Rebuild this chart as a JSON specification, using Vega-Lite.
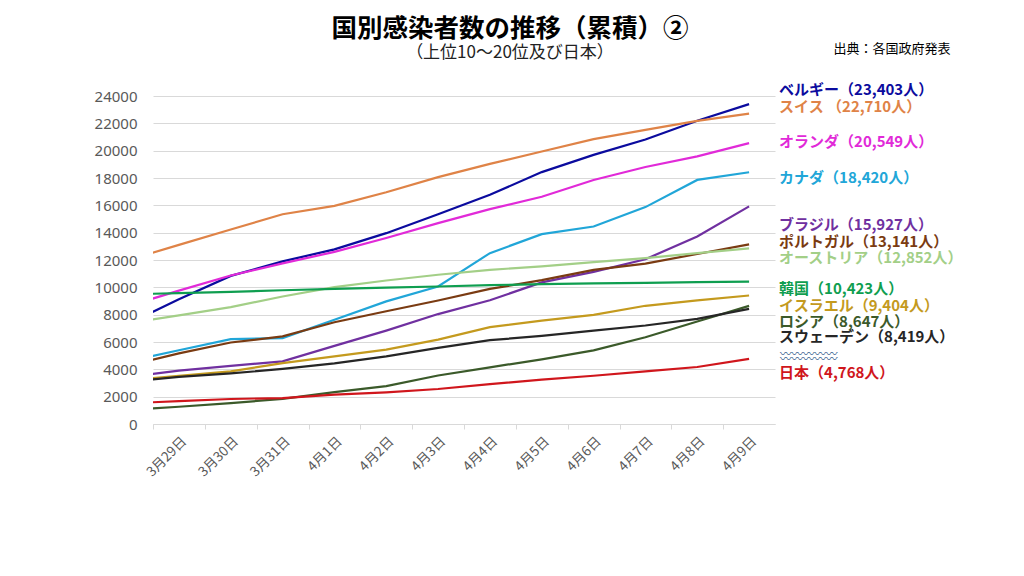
{
  "$schema": "https://vega.github.io/schema/vega-lite/v6.json",
  "width": 622,
  "height": 328,
  "autosize": {"type": "none"},
  "padding": {"left": 153, "top": 96, "right": 249, "bottom": 152},
  "background": "white",
  "title": {
    "text": "国別感染者数の推移（累積）②",
    "subtitle": "（上位10～20位及び日本）",
    "anchor": "middle", "frame": "group", "dx": 46, "offset": -19,
    "font": "Noto Sans CJK JP", "fontSize": 25.5, "fontWeight": "bold", "color": "#000000",
    "subtitleFont": "Noto Sans CJK JP", "subtitleFontSize": 17, "subtitleColor": "#222222", "subtitlePadding": 3
  },
  "datasets": {
    "cases": [
      {"date": "2020-03-28", "country": "ベルギー", "cases": 7300},
      {"date": "2020-03-29", "country": "ベルギー", "cases": 9134},
      {"date": "2020-03-30", "country": "ベルギー", "cases": 10836},
      {"date": "2020-03-31", "country": "ベルギー", "cases": 11899},
      {"date": "2020-04-01", "country": "ベルギー", "cases": 12775},
      {"date": "2020-04-02", "country": "ベルギー", "cases": 13964},
      {"date": "2020-04-03", "country": "ベルギー", "cases": 15348},
      {"date": "2020-04-04", "country": "ベルギー", "cases": 16770},
      {"date": "2020-04-05", "country": "ベルギー", "cases": 18431},
      {"date": "2020-04-06", "country": "ベルギー", "cases": 19691},
      {"date": "2020-04-07", "country": "ベルギー", "cases": 20814},
      {"date": "2020-04-08", "country": "ベルギー", "cases": 22194},
      {"date": "2020-04-09", "country": "ベルギー", "cases": 23403},
      {"date": "2020-03-28", "country": "スイス", "cases": 11980},
      {"date": "2020-03-29", "country": "スイス", "cases": 13110},
      {"date": "2020-03-30", "country": "スイス", "cases": 14230},
      {"date": "2020-03-31", "country": "スイス", "cases": 15350},
      {"date": "2020-04-01", "country": "スイス", "cases": 15960},
      {"date": "2020-04-02", "country": "スイス", "cases": 16960},
      {"date": "2020-04-03", "country": "スイス", "cases": 18060},
      {"date": "2020-04-04", "country": "スイス", "cases": 19030},
      {"date": "2020-04-05", "country": "スイス", "cases": 19940},
      {"date": "2020-04-06", "country": "スイス", "cases": 20840},
      {"date": "2020-04-07", "country": "スイス", "cases": 21520},
      {"date": "2020-04-08", "country": "スイス", "cases": 22180},
      {"date": "2020-04-09", "country": "スイス", "cases": 22710},
      {"date": "2020-03-28", "country": "オランダ", "cases": 8603},
      {"date": "2020-03-29", "country": "オランダ", "cases": 9762},
      {"date": "2020-03-30", "country": "オランダ", "cases": 10866},
      {"date": "2020-03-31", "country": "オランダ", "cases": 11750},
      {"date": "2020-04-01", "country": "オランダ", "cases": 12595},
      {"date": "2020-04-02", "country": "オランダ", "cases": 13614},
      {"date": "2020-04-03", "country": "オランダ", "cases": 14697},
      {"date": "2020-04-04", "country": "オランダ", "cases": 15723},
      {"date": "2020-04-05", "country": "オランダ", "cases": 16627},
      {"date": "2020-04-06", "country": "オランダ", "cases": 17851},
      {"date": "2020-04-07", "country": "オランダ", "cases": 18803},
      {"date": "2020-04-08", "country": "オランダ", "cases": 19580},
      {"date": "2020-04-09", "country": "オランダ", "cases": 20549},
      {"date": "2020-03-28", "country": "カナダ", "cases": 4560},
      {"date": "2020-03-29", "country": "カナダ", "cases": 5400},
      {"date": "2020-03-30", "country": "カナダ", "cases": 6210},
      {"date": "2020-03-31", "country": "カナダ", "cases": 6290},
      {"date": "2020-04-01", "country": "カナダ", "cases": 7630},
      {"date": "2020-04-02", "country": "カナダ", "cases": 8970},
      {"date": "2020-04-03", "country": "カナダ", "cases": 10060},
      {"date": "2020-04-04", "country": "カナダ", "cases": 12500},
      {"date": "2020-04-05", "country": "カナダ", "cases": 13890},
      {"date": "2020-04-06", "country": "カナダ", "cases": 14450},
      {"date": "2020-04-07", "country": "カナダ", "cases": 15870},
      {"date": "2020-04-08", "country": "カナダ", "cases": 17860},
      {"date": "2020-04-09", "country": "カナダ", "cases": 18420},
      {"date": "2020-03-28", "country": "ブラジル", "cases": 3417},
      {"date": "2020-03-29", "country": "ブラジル", "cases": 3904},
      {"date": "2020-03-30", "country": "ブラジル", "cases": 4256},
      {"date": "2020-03-31", "country": "ブラジル", "cases": 4579},
      {"date": "2020-04-01", "country": "ブラジル", "cases": 5717},
      {"date": "2020-04-02", "country": "ブラジル", "cases": 6836},
      {"date": "2020-04-03", "country": "ブラジル", "cases": 8044},
      {"date": "2020-04-04", "country": "ブラジル", "cases": 9056},
      {"date": "2020-04-05", "country": "ブラジル", "cases": 10360},
      {"date": "2020-04-06", "country": "ブラジル", "cases": 11130},
      {"date": "2020-04-07", "country": "ブラジル", "cases": 12056},
      {"date": "2020-04-08", "country": "ブラジル", "cases": 13717},
      {"date": "2020-04-09", "country": "ブラジル", "cases": 15927},
      {"date": "2020-03-28", "country": "ポルトガル", "cases": 4268},
      {"date": "2020-03-29", "country": "ポルトガル", "cases": 5170},
      {"date": "2020-03-30", "country": "ポルトガル", "cases": 5962},
      {"date": "2020-03-31", "country": "ポルトガル", "cases": 6408},
      {"date": "2020-04-01", "country": "ポルトガル", "cases": 7443},
      {"date": "2020-04-02", "country": "ポルトガル", "cases": 8251},
      {"date": "2020-04-03", "country": "ポルトガル", "cases": 9034},
      {"date": "2020-04-04", "country": "ポルトガル", "cases": 9886},
      {"date": "2020-04-05", "country": "ポルトガル", "cases": 10524},
      {"date": "2020-04-06", "country": "ポルトガル", "cases": 11278},
      {"date": "2020-04-07", "country": "ポルトガル", "cases": 11730},
      {"date": "2020-04-08", "country": "ポルトガル", "cases": 12442},
      {"date": "2020-04-09", "country": "ポルトガル", "cases": 13141},
      {"date": "2020-03-28", "country": "オーストリア", "cases": 7360},
      {"date": "2020-03-29", "country": "オーストリア", "cases": 7950},
      {"date": "2020-03-30", "country": "オーストリア", "cases": 8550},
      {"date": "2020-03-31", "country": "オーストリア", "cases": 9330},
      {"date": "2020-04-01", "country": "オーストリア", "cases": 10020},
      {"date": "2020-04-02", "country": "オーストリア", "cases": 10500},
      {"date": "2020-04-03", "country": "オーストリア", "cases": 10920},
      {"date": "2020-04-04", "country": "オーストリア", "cases": 11280},
      {"date": "2020-04-05", "country": "オーストリア", "cases": 11530},
      {"date": "2020-04-06", "country": "オーストリア", "cases": 11840},
      {"date": "2020-04-07", "country": "オーストリア", "cases": 12140},
      {"date": "2020-04-08", "country": "オーストリア", "cases": 12500},
      {"date": "2020-04-09", "country": "オーストリア", "cases": 12852},
      {"date": "2020-03-28", "country": "韓国", "cases": 9478},
      {"date": "2020-03-29", "country": "韓国", "cases": 9583},
      {"date": "2020-03-30", "country": "韓国", "cases": 9661},
      {"date": "2020-03-31", "country": "韓国", "cases": 9786},
      {"date": "2020-04-01", "country": "韓国", "cases": 9887},
      {"date": "2020-04-02", "country": "韓国", "cases": 9976},
      {"date": "2020-04-03", "country": "韓国", "cases": 10062},
      {"date": "2020-04-04", "country": "韓国", "cases": 10156},
      {"date": "2020-04-05", "country": "韓国", "cases": 10237},
      {"date": "2020-04-06", "country": "韓国", "cases": 10284},
      {"date": "2020-04-07", "country": "韓国", "cases": 10331},
      {"date": "2020-04-08", "country": "韓国", "cases": 10384},
      {"date": "2020-04-09", "country": "韓国", "cases": 10423},
      {"date": "2020-03-28", "country": "イスラエル", "cases": 3190},
      {"date": "2020-03-29", "country": "イスラエル", "cases": 3520},
      {"date": "2020-03-30", "country": "イスラエル", "cases": 3850},
      {"date": "2020-03-31", "country": "イスラエル", "cases": 4460},
      {"date": "2020-04-01", "country": "イスラエル", "cases": 4950},
      {"date": "2020-04-02", "country": "イスラエル", "cases": 5440},
      {"date": "2020-04-03", "country": "イスラエル", "cases": 6170},
      {"date": "2020-04-04", "country": "イスラエル", "cases": 7090},
      {"date": "2020-04-05", "country": "イスラエル", "cases": 7560},
      {"date": "2020-04-06", "country": "イスラエル", "cases": 7990},
      {"date": "2020-04-07", "country": "イスラエル", "cases": 8650},
      {"date": "2020-04-08", "country": "イスラエル", "cases": 9040},
      {"date": "2020-04-09", "country": "イスラエル", "cases": 9404},
      {"date": "2020-03-28", "country": "ロシア", "cases": 1036},
      {"date": "2020-03-29", "country": "ロシア", "cases": 1264},
      {"date": "2020-03-30", "country": "ロシア", "cases": 1534},
      {"date": "2020-03-31", "country": "ロシア", "cases": 1836},
      {"date": "2020-04-01", "country": "ロシア", "cases": 2337},
      {"date": "2020-04-02", "country": "ロシア", "cases": 2777},
      {"date": "2020-04-03", "country": "ロシア", "cases": 3548},
      {"date": "2020-04-04", "country": "ロシア", "cases": 4149},
      {"date": "2020-04-05", "country": "ロシア", "cases": 4731},
      {"date": "2020-04-06", "country": "ロシア", "cases": 5389},
      {"date": "2020-04-07", "country": "ロシア", "cases": 6343},
      {"date": "2020-04-08", "country": "ロシア", "cases": 7497},
      {"date": "2020-04-09", "country": "ロシア", "cases": 8647},
      {"date": "2020-03-28", "country": "スウェーデン", "cases": 3069},
      {"date": "2020-03-29", "country": "スウェーデン", "cases": 3447},
      {"date": "2020-03-30", "country": "スウェーデン", "cases": 3700},
      {"date": "2020-03-31", "country": "スウェーデン", "cases": 4028},
      {"date": "2020-04-01", "country": "スウェーデン", "cases": 4435},
      {"date": "2020-04-02", "country": "スウェーデン", "cases": 4947},
      {"date": "2020-04-03", "country": "スウェーデン", "cases": 5568},
      {"date": "2020-04-04", "country": "スウェーデン", "cases": 6131},
      {"date": "2020-04-05", "country": "スウェーデン", "cases": 6443},
      {"date": "2020-04-06", "country": "スウェーデン", "cases": 6830},
      {"date": "2020-04-07", "country": "スウェーデン", "cases": 7206},
      {"date": "2020-04-08", "country": "スウェーデン", "cases": 7693},
      {"date": "2020-04-09", "country": "スウェーデン", "cases": 8419},
      {"date": "2020-03-28", "country": "日本", "cases": 1510},
      {"date": "2020-03-29", "country": "日本", "cases": 1670},
      {"date": "2020-03-30", "country": "日本", "cases": 1830},
      {"date": "2020-03-31", "country": "日本", "cases": 1900},
      {"date": "2020-04-01", "country": "日本", "cases": 2150},
      {"date": "2020-04-02", "country": "日本", "cases": 2320},
      {"date": "2020-04-03", "country": "日本", "cases": 2560},
      {"date": "2020-04-04", "country": "日本", "cases": 2920},
      {"date": "2020-04-05", "country": "日本", "cases": 3240},
      {"date": "2020-04-06", "country": "日本", "cases": 3530},
      {"date": "2020-04-07", "country": "日本", "cases": 3850},
      {"date": "2020-04-08", "country": "日本", "cases": 4170},
      {"date": "2020-04-09", "country": "日本", "cases": 4768}
    ],
    "labels": [
      {"date": "2020-04-09", "country": "ベルギー", "label": "ベルギー（23,403人）", "pos": 24440},
      {"date": "2020-04-09", "country": "スイス", "label": "スイス （22,710人）", "pos": 23170},
      {"date": "2020-04-09", "country": "オランダ", "label": "オランダ（20,549人）", "pos": 20660},
      {"date": "2020-04-09", "country": "カナダ", "label": "カナダ（18,420人）", "pos": 18020},
      {"date": "2020-04-09", "country": "ブラジル", "label": "ブラジル（15,927人）", "pos": 14560},
      {"date": "2020-04-09", "country": "ポルトガル", "label": "ポルトガル（13,141人）", "pos": 13340},
      {"date": "2020-04-09", "country": "オーストリア", "label": "オーストリア（12,852人）", "pos": 12170},
      {"date": "2020-04-09", "country": "韓国", "label": "韓国（10,423人）", "pos": 9880},
      {"date": "2020-04-09", "country": "イスラエル", "label": "イスラエル（9,404人）", "pos": 8660},
      {"date": "2020-04-09", "country": "ロシア", "label": "ロシア（8,647人）", "pos": 7490},
      {"date": "2020-04-09", "country": "スウェーデン", "label": "スウェーデン（8,419人）", "pos": 6390},
      {"date": "2020-04-09", "country": "日本", "label": "日本（4,768人）", "pos": 3710}
    ],
    "wave": [
      {"date": "2020-04-09", "pos": 5050}
    ]
  },
  "layer": [
    {
      "data": {"name": "cases"},
      "mark": {"type": "line", "strokeWidth": 2.2, "clip": true},
      "encoding": {
        "x": {
          "field": "date", "type": "temporal",
          "scale": {
            "type": "utc",
            "domain": ["2020-03-28T12:00:00Z", "2020-04-09T12:00:00Z"]
          },
          "axis": {
            "title": "出典：各国政府発表",
            "titleX": 797, "titleY": -376, "titleAlign": "right", "titleBaseline": "middle",
            "titleFont": "Noto Sans CJK JP", "titleFontSize": 13, "titleFontWeight": "normal", "titleColor": "#000000",
            "tickCount": {"interval": "day", "step": 1},
            "labelExpr": "(utcmonth(datum.value) + 1) + '月' + utcdate(datum.value) + '日'",
            "labelAngle": -45, "labelFont": "Noto Sans CJK JP", "labelFontSize": 13.5, "labelColor": "#595959",
            "labelPadding": 5, "labelFlush": false, "labelOverlap": false,
            "tickOffset": -25.9, "labelOffset": 25.9,
            "tickColor": "#D9D9D9", "tickSize": 5, "domainColor": "#D9D9D9", "grid": false
          }
        },
        "y": {
          "field": "cases", "type": "quantitative",
          "scale": {"domain": [0, 24000], "nice": false},
          "axis": {
            "title": null,
            "values": [0, 2000, 4000, 6000, 8000, 10000, 12000, 14000, 16000, 18000, 20000, 22000, 24000],
            "format": "d", "labelFont": "Noto Sans", "labelFontSize": 15, "labelColor": "#595959",
            "labelPadding": 16, "labelOverlap": false, "ticks": false, "domain": false,
            "gridColor": "#D9D9D9", "gridWidth": 1
          }
        },
        "color": {
          "field": "country", "type": "nominal", "legend": null,
          "scale": {
            "domain": ["ベルギー", "スイス", "オランダ", "カナダ", "ブラジル", "ポルトガル", "オーストリア", "韓国", "イスラエル", "ロシア", "スウェーデン", "日本"],
            "range": ["#0B0B9E", "#DF8347", "#E12AD8", "#21A6D8", "#7030A0", "#7A3B12", "#A3CF87", "#0F9E50", "#C49A1E", "#3B5A2A", "#262626", "#D0161C"]
          }
        }
      }
    },
    {
      "data": {"name": "labels"},
      "mark": {"type": "text", "align": "left", "dx": 30, "font": "Noto Sans CJK JP", "fontSize": 15, "fontWeight": "bold"},
      "encoding": {
        "x": {"field": "date", "type": "temporal"},
        "y": {
          "field": "pos", "type": "quantitative",
          "axis": {
            "title": null,
            "values": [0, 2000, 4000, 6000, 8000, 10000, 12000, 14000, 16000, 18000, 20000, 22000, 24000],
            "format": "d", "labelFont": "Noto Sans", "labelFontSize": 15, "labelColor": "#595959",
            "labelPadding": 16, "labelOverlap": false, "ticks": false, "domain": false,
            "gridColor": "#D9D9D9", "gridWidth": 1
          }
        },
        "text": {"field": "label", "type": "nominal"},
        "color": {"field": "country", "type": "nominal", "legend": null}
      }
    },
    {
      "data": {"name": "wave"},
      "mark": {"type": "text", "align": "left", "dx": 31, "text": ["〰〰〰〰〰", "〰〰〰〰〰"], "lineHeight": 5, "font": "Noto Sans CJK JP", "fontSize": 11.5, "color": "#3A5F8F"},
      "encoding": {
        "x": {"field": "date", "type": "temporal"},
        "y": {
          "field": "pos", "type": "quantitative",
          "axis": {
            "title": null,
            "values": [0, 2000, 4000, 6000, 8000, 10000, 12000, 14000, 16000, 18000, 20000, 22000, 24000],
            "format": "d", "labelFont": "Noto Sans", "labelFontSize": 15, "labelColor": "#595959",
            "labelPadding": 16, "labelOverlap": false, "ticks": false, "domain": false,
            "gridColor": "#D9D9D9", "gridWidth": 1
          }
        }
      }
    }
  ],
  "config": {"view": {"stroke": null}}
}
